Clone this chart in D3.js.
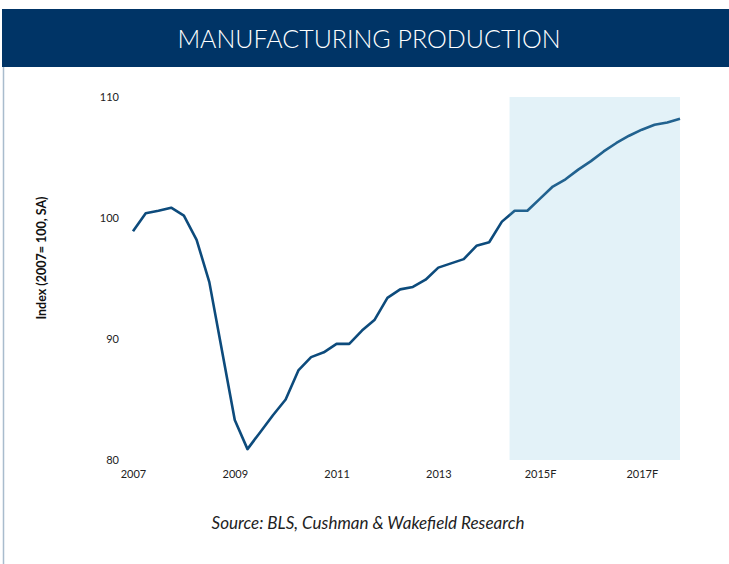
<!DOCTYPE html>
<html>
<head>
<meta charset="utf-8">
<script src="https://cdn.jsdelivr.net/npm/d3@7"></script>
<style>
  body { margin: 0; background: #fff; }
  svg { display: block; }
</style>
</head>
<body>
<script>

// Quarterly index values, 2007 Q1 .. 2017 Q4 (forecast from mid 2014)
const production = [
    98.9, 100.4, 100.6, 100.85, 100.2, 98.2, 94.7, 89.0,
    83.3, 80.9, 82.3, 83.7, 85.0, 87.4, 88.5, 88.9,
    89.6, 89.6, 90.7, 91.6, 93.4, 94.1, 94.3, 94.9,
    95.9, 96.25, 96.6, 97.7, 98.0, 99.7, 100.6, 100.6,
    101.6, 102.6, 103.2, 104.0, 104.7, 105.5, 106.2, 106.8,
    107.3, 107.7, 107.9, 108.2
];
const xTickIndex = [0, 8, 16, 24, 32, 40];
const xTickLabels = ["2007", "2009", "2011", "2013", "2015F", "2017F"];
const yTicks = [80, 90, 100, 110];
const forecastStart = 29.6;   // quarter index where the shaded forecast begins

const width = 729;
const height = 564;

const x = d3.scaleLinear([0, production.length - 1], [133, 680]);
const y = d3.scaleLinear([80, 110], [460, 97]);

const svg = d3.create("svg")
    .attr("width", width)
    .attr("height", height)
    .attr("viewBox", [0, 0, width, height]);

// Title banner
svg.append("rect")
    .attr("x", 2).attr("y", 9)
    .attr("width", width - 2).attr("height", 58)
    .attr("fill", "#003466");

svg.append("text")
    .attr("x", 369).attr("y", 48)
    .attr("text-anchor", "middle")
    .attr("fill", "#fff")
    .attr("font-family", "Lato, 'Open Sans', sans-serif")
    .attr("font-weight", 300)
    .attr("font-size", "25px")
    .text("MANUFACTURING PRODUCTION");

// thin frame line on the left
svg.append("line")
    .attr("x1", 3.5).attr("x2", 3.5)
    .attr("y1", 67).attr("y2", height)
    .attr("stroke", "#a9bccd")
    .attr("stroke-width", 1.5);

// Y axis labels (no line, no ticks)
svg.append("g")
    .attr("transform", `translate(119,0)`)
    .call(d3.axisLeft(y).tickValues(yTicks).tickSize(0).tickPadding(0))
    .call(g => g.select(".domain").remove())
    .call(g => g.selectAll("text")
        .attr("fill", "#222")
        .attr("font-family", "Lato, sans-serif")
        .attr("font-size", "11px"));

// X axis labels
const xAxis = d3.axisBottom(x)
    .tickValues(xTickIndex)
    .tickFormat((d, i) => xTickLabels[i])
    .tickSize(0).tickPadding(10);

svg.append("g")
    .attr("transform", `translate(0,${y(80)})`)
    .call(xAxis)
    .call(g => g.select(".domain").remove())
    .call(g => g.selectAll("text")
        .attr("fill", "#222")
        .attr("font-family", "Lato, sans-serif")
        .attr("font-size", "11px"));

// Axis title
svg.append("text")
    .attr("transform", "translate(46,258) rotate(-90)")
    .attr("text-anchor", "middle")
    .attr("font-family", "Lato, sans-serif")
    .attr("font-weight", "bold")
    .attr("font-size", "12.5px")
    .attr("fill", "#111")
    .text("Index (2007= 100, SA)");

// The line
const line = d3.line()
    .x((d, i) => x(i))
    .y(d => y(d));

svg.append("path")
    .attr("fill", "none")
    .attr("stroke", "#0d4b7c")
    .attr("stroke-width", 2.6)
    .attr("stroke-linejoin", "round")
    .attr("d", line(production));

// Forecast shading drawn on top (semi transparent so the line fades)
svg.append("rect")
    .attr("x", x(forecastStart))
    .attr("y", y(110))
    .attr("width", x(production.length - 1) - x(forecastStart))
    .attr("height", y(80) - y(110))
    .attr("fill", "#73bedc")
    .attr("fill-opacity", 0.2);

// Source
svg.append("text")
    .attr("x", 368).attr("y", 529)
    .attr("text-anchor", "middle")
    .attr("font-family", "Lato, sans-serif")
    .attr("font-style", "italic")
    .attr("font-size", "17px")
    .attr("fill", "#222")
    .text("Source: BLS, Cushman & Wakefield Research");

document.body.appendChild(svg.node());
</script>
</body>
</html>
